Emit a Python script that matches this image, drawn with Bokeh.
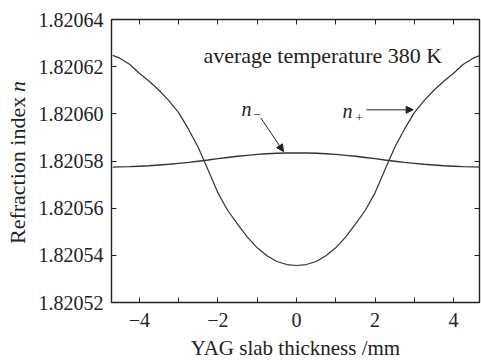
from math import pi
from bokeh.plotting import figure
from bokeh.models import (Range1d, FixedTicker, LinearAxis, PrintfTickFormatter,
                          Label, Arrow, NormalHead)
from bokeh.embed import file_html
from bokeh.resources import INLINE

SERIF = "'Liberation Serif', 'Times New Roman', serif"
INK = "#222222"

# ---- data ----
thickness = [-4.68, -4.5, -4.25, -4.0, -3.75, -3.5, -3.25, -3.0, -2.75, -2.5,
             -2.25, -2.0, -1.75, -1.5, -1.25, -1.0, -0.75, -0.5, -0.25, 0.0,
             0.25, 0.5, 0.75, 1.0, 1.25, 1.5, 1.75, 2.0, 2.25, 2.5,
             2.75, 3.0, 3.25, 3.5, 3.75, 4.0, 4.25, 4.5, 4.68]
n_plus = [1.8206248, 1.8206236, 1.8206210, 1.8206172, 1.8206138, 1.8206100,
          1.8206056, 1.8206005, 1.8205935, 1.8205857, 1.8205762, 1.8205665,
          1.8205590, 1.8205532, 1.8205477, 1.8205432, 1.8205398, 1.8205374,
          1.8205361, 1.8205357,
          1.8205361, 1.8205374, 1.8205398, 1.8205432, 1.8205477, 1.8205532,
          1.8205590, 1.8205665, 1.8205762, 1.8205857, 1.8205935, 1.8206005,
          1.8206056, 1.8206100, 1.8206138, 1.8206172, 1.8206210, 1.8206236,
          1.8206248]
n_minus = [1.8205774, 1.8205775, 1.8205776, 1.8205778, 1.8205780, 1.8205783,
           1.8205786, 1.8205790, 1.8205794, 1.8205799, 1.8205804, 1.8205810,
           1.8205815, 1.8205820, 1.8205824, 1.8205828, 1.8205831, 1.8205833,
           1.8205834, 1.8205834,
           1.8205834, 1.8205833, 1.8205831, 1.8205828, 1.8205824, 1.8205820,
           1.8205815, 1.8205810, 1.8205804, 1.8205799, 1.8205794, 1.8205790,
           1.8205786, 1.8205783, 1.8205780, 1.8205778, 1.8205776, 1.8205775,
           1.8205774]

x_ticks = [-4, -3, -2, -1, 0, 1, 2, 3, 4]
x_tick_labels = {-4: "\u22124", -3: "", -2: "\u22122", -1: "", 0: "0",
                 1: "", 2: "2", 3: "", 4: "4"}
y_ticks = [1.82052, 1.82054, 1.82056, 1.82058, 1.82060, 1.82062, 1.82064]

x_title = "YAG slab thickness /mm"
y_title = "Refraction index "
y_title_symbol = "n"
note = "average temperature 380 K"

p = figure(width=481, height=362, output_backend="svg", toolbar_location=None,
           x_range=Range1d(-4.71, 4.66), y_range=Range1d(1.82052, 1.82064),
           min_border_left=111, min_border_right=2, min_border_top=19,
           min_border_bottom=58)
p.xgrid.grid_line_color = None
p.ygrid.grid_line_color = None
p.outline_line_color = INK
p.outline_line_width = 1.4
p.background_fill_color = "white"
p.border_fill_color = "white"

xt = FixedTicker(ticks=x_ticks)
yt = FixedTicker(ticks=y_ticks)

def style(ax, size="20px"):
    ax.axis_line_color = None
    ax.major_tick_in = 5
    ax.major_tick_out = 0
    ax.major_tick_line_color = INK
    ax.major_tick_line_width = 1
    ax.minor_tick_line_color = None
    ax.major_label_text_font = SERIF
    ax.major_label_text_font_size = size
    ax.major_label_text_font_style = "normal"
    ax.major_label_text_color = INK

xa = p.xaxis[0]
xa.ticker = xt
xa.major_label_overrides = x_tick_labels
style(xa)
xa.major_label_standoff = 10
xa.axis_label = x_title
xa.axis_label_text_font = SERIF
xa.axis_label_text_font_size = "21px"
xa.axis_label_text_font_style = "normal"
xa.axis_label_text_color = INK
xa.axis_label_standoff = 6

ya = p.yaxis[0]
ya.ticker = yt
ya.formatter = PrintfTickFormatter(format="%.5f")
style(ya)
ya.major_label_standoff = 8

top = LinearAxis(ticker=xt, major_label_overrides={t: "" for t in x_ticks})
style(top, "1px")
top.major_label_standoff = 0
p.add_layout(top, "above")
right = LinearAxis(ticker=yt, major_label_overrides={t: "" for t in y_ticks})
style(right, "1px")
right.major_label_standoff = 0
p.add_layout(right, "right")

p.line(thickness, n_plus, line_color="#333333", line_width=1.2)
p.line(thickness, n_minus, line_color="#333333", line_width=1.4)

# y title (normal + italic symbol), rotated; placed in side panels so that
# they are not clipped to the frame; positioned through the data scales
p.add_layout(Label(x=-7.10, y=1.8205448, angle=pi/2,
                   text=y_title, text_font=SERIF, text_font_size="22px",
                   text_color=INK, text_align="left", text_baseline="middle"),
             "left")
p.add_layout(Label(x=-7.10, y=1.8206093, angle=pi/2,
                   text=y_title_symbol, text_font=SERIF, text_font_size="22px",
                   text_font_style="italic", text_color=INK,
                   text_align="left", text_baseline="middle"),
             "above")

# annotation text
p.add_layout(Label(x=-2.37, y=1.8206248, text=note, text_font=SERIF,
                   text_font_size="22px", text_color=INK,
                   text_baseline="alphabetic"))

# n- label and arrow
p.add_layout(Label(x=-1.40, y=1.8206021, text="n", text_font=SERIF,
                   text_font_size="20px", text_font_style="italic",
                   text_color=INK, text_baseline="alphabetic"))
p.add_layout(Label(x=-1.10, y=1.8205996, text="\u2212", text_font=SERIF,
                   text_font_size="13px", text_color=INK,
                   text_baseline="alphabetic"))
p.add_layout(Arrow(x_start=-0.91, y_start=1.8205983, x_end=-0.33, y_end=1.820584,
                   line_color=INK, line_width=1,
                   end=NormalHead(size=7, fill_color=INK, line_color=INK)))

# n+ label and arrow
p.add_layout(Label(x=1.17, y=1.8206013, text="n", text_font=SERIF,
                   text_font_size="20px", text_font_style="italic",
                   text_color=INK, text_baseline="alphabetic"))
p.add_layout(Label(x=1.50, y=1.8205982, text="+", text_font=SERIF,
                   text_font_size="13px", text_color=INK,
                   text_baseline="alphabetic"))
p.add_layout(Arrow(x_start=1.78, y_start=1.8206017, x_end=2.97, y_end=1.8206017,
                   line_color=INK, line_width=1,
                   end=NormalHead(size=7, fill_color=INK, line_color=INK)))

open("out.html", "w").write(file_html(p, INLINE))
